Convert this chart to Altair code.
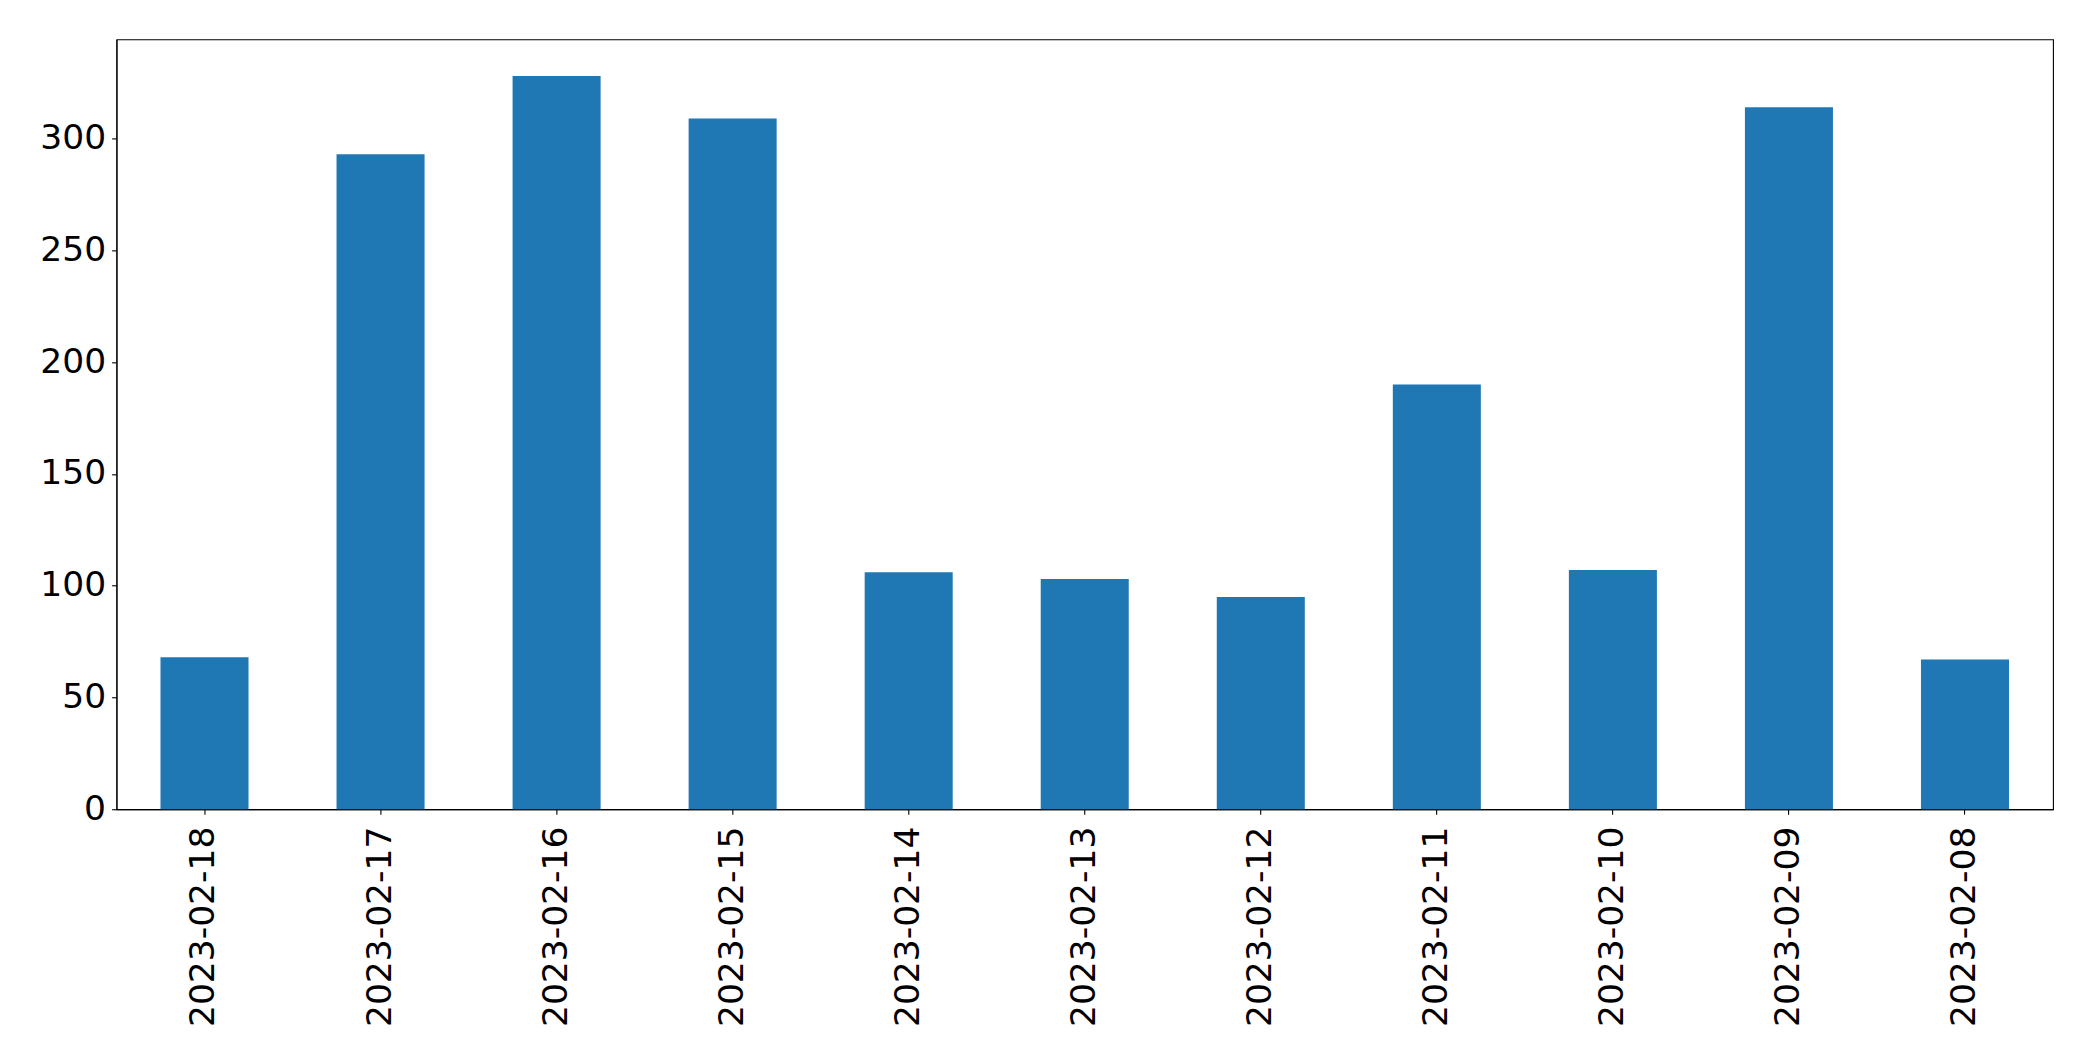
import altair as alt
import pandas as pd

dates = ["2023-02-18", "2023-02-17", "2023-02-16", "2023-02-15", "2023-02-14",
         "2023-02-13", "2023-02-12", "2023-02-11", "2023-02-10", "2023-02-09",
         "2023-02-08"]
counts = [68, 293, 328, 309, 106, 103, 95, 190, 107, 314, 67]

df = pd.DataFrame({"date": dates, "count": counts})

FONT = "DejaVu Sans"
FS = 34.5

chart = alt.Chart(df).mark_bar(color="#1f77b4").encode(
    x=alt.X("date:N", sort=None, title=None,
            scale=alt.Scale(paddingInner=0.5, paddingOuter=0.25),
            axis=alt.Axis(labelAngle=-90, labelFontSize=FS, labelFont=FONT,
                          labelColor="black", labelPadding=12, labelLimit=0,
                          tickSize=4.9, tickColor="black", tickWidth=1.1,
                          domainColor="black", domainWidth=1.1, grid=False,
                          labelBaseline="middle", labelAlign="right")),
    y=alt.Y("count:Q", title=None,
            scale=alt.Scale(domain=[0, 344.4], nice=False, zero=True),
            axis=alt.Axis(values=[0, 50, 100, 150, 200, 250, 300],
                          labelFontSize=FS, labelFont=FONT, labelColor="black",
                          labelPadding=6, tickSize=4.9, tickColor="black",
                          tickWidth=1.1, domainColor="black", domainWidth=1.1,
                          grid=False)),
).properties(
    width=1937,
    height=770,
    background="white",
    autosize=alt.AutoSizeParams(type="none"),
    padding={"left": 108.5, "top": 31.3, "right": 32, "bottom": 244},
).configure_view(
    stroke="black", strokeWidth=1.1
)

chart.save("out.html", embed_options={"renderer": "svg", "actions": False})
